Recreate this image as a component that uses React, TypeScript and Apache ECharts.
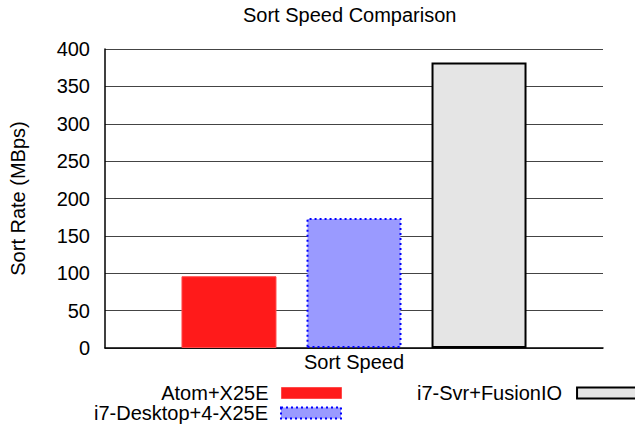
import React, { useEffect, useRef } from "react";
import * as echarts from "echarts";

const categories = ["Sort Speed"];
const seriesNames = ["Atom+X25E", "i7-Desktop+4-X25E", "i7-Svr+FusionIO"];
const atomValues = [96];
const desktopValues = [174];
const svrValues = [382];
const yTicks = { min: 0, max: 400, interval: 50 };

const FONT = "Liberation Sans, Arial, sans-serif";

export default function App() {
  const ref = useRef<HTMLDivElement>(null);
  useEffect(() => {
    if (!ref.current) return;
    const chart = echarts.init(ref.current, undefined, { renderer: "svg" });
    const styles = [
      { color: "#ff1a1a", borderColor: "#ff4a4a", borderWidth: 1, borderType: "solid" },
      { color: "#9a9aff", borderColor: "#0000ff", borderWidth: 2, borderType: [2, 3] },
      { color: "#e5e5e5", borderColor: "#000000", borderWidth: 2, borderType: "solid" },
    ];
    const legendText = { fontFamily: FONT, fontSize: 20, color: "#000", padding: [0, 8, 0, 0] };
    chart.setOption({
      animation: false,
      textStyle: { fontFamily: FONT },
      title: {
        text: "Sort Speed Comparison",
        left: 243,
        top: 5,
        padding: 0,
        textStyle: { fontFamily: FONT, fontSize: 20, fontWeight: "normal", color: "#000" },
      },
      grid: { left: 105, right: 32, top: 49, bottom: 77, containLabel: false },
      legend: [
        {
          data: [{ name: seriesNames[0], itemStyle: styles[0] }],
          right: 293,
          top: 383,
          padding: 0,
          align: "right",
          itemWidth: 60,
          itemHeight: 11,
          icon: "rect",
          textStyle: legendText,
          selectedMode: false,
        },
        {
          data: [{ name: seriesNames[1], itemStyle: styles[1] }],
          right: 293,
          top: 403,
          padding: 0,
          align: "right",
          itemWidth: 60,
          itemHeight: 11,
          icon: "rect",
          textStyle: legendText,
          selectedMode: false,
        },
        {
          data: [{ name: seriesNames[2], itemStyle: styles[2] }],
          left: 417,
          top: 383,
          padding: 0,
          align: "right",
          itemWidth: 60,
          itemHeight: 11,
          icon: "rect",
          textStyle: { ...legendText, padding: [0, 10, 0, 0] },
          selectedMode: false,
        },
      ],
      xAxis: {
        type: "category",
        data: categories,
        axisLine: { show: true, lineStyle: { color: "#000", width: 1.5 } },
        axisTick: { show: false },
        axisLabel: { fontFamily: FONT, fontSize: 20, color: "#000", margin: 4 },
      },
      yAxis: {
        type: "value",
        min: yTicks.min,
        max: yTicks.max,
        interval: yTicks.interval,
        name: "Sort Rate (MBps)",
        nameLocation: "middle",
        nameGap: 77,
        nameTextStyle: { fontFamily: FONT, fontSize: 20, color: "#000" },
        axisLine: { show: true, lineStyle: { color: "#000", width: 1.5 } },
        axisTick: { show: false },
        axisLabel: { fontFamily: FONT, fontSize: 20, color: "#000", margin: 15 },
        splitLine: { show: true, lineStyle: { color: "#444", width: 1 } },
      },
      series: [
        { name: seriesNames[0], type: "bar", data: atomValues, barWidth: 95, barGap: "31.6%", itemStyle: styles[0] },
        { name: seriesNames[1], type: "bar", data: desktopValues, barWidth: 95, barGap: "31.6%", itemStyle: styles[1] },
        { name: seriesNames[2], type: "bar", data: svrValues, barWidth: 95, barGap: "31.6%", itemStyle: styles[2] },
      ],
    });
    return () => chart.dispose();
  }, []);
  return <div ref={ref} style={{ width: 635, height: 425, position: "absolute", left: 0, top: 0 }} />;
}
